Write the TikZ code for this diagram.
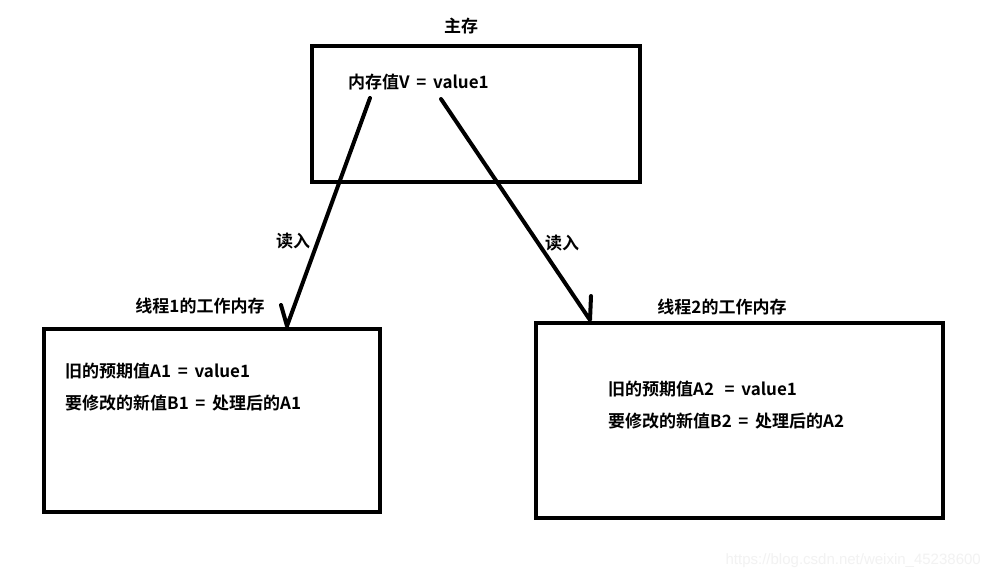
\documentclass[tikz,border=0pt]{standalone}
\usepackage{fontspec}
\setmainfont{Noto Sans CJK SC Bold}
\setsansfont{Liberation Sans}
\begin{document}
\begin{tikzpicture}[x=1pt,y=-1pt,
  box/.style={draw=black,line width=4pt},
  lbl/.style={font=\fontsize{17}{20}\selectfont,inner sep=0pt},
  conn/.style={line width=4pt,line cap=round,line join=round},
  wm/.style={font=\sffamily\fontsize{15}{18}\selectfont,text=black!5,inner sep=0pt}]
\useasboundingbox[fill=white] (0,0) rectangle (990,579);
% boxes
\draw[box] (312,46) rectangle (640,182);
\draw[box] (44,329) rectangle (380,512);
\draw[box] (536,323) rectangle (943,518);
% texts
\node[lbl] (main) at (461,26) {主存};
\node[lbl,anchor=west] (v) at (348,82) {内存值V\,\ =\ \,value1};
\node[lbl] (r1) at (293,241) {读入};
\node[lbl] (r2) at (562,243) {读入};
\node[lbl] (t1) at (200,306) {线程1的工作内存};
\node[lbl] (t2) at (722,307) {线程2的工作内存};
\node[lbl,anchor=west] (a1) at (65,371) {旧的预期值A1\,\ =\ \,value1};
\node[lbl,anchor=west] (b1) at (65,403) {要修改的新值B1\,\ =\ \,处理后的A1};
\node[lbl,anchor=west] (a2) at (608,389) {旧的预期值A2\ \ \,=\ \,value1};
\node[lbl,anchor=west] (b2) at (608,421) {要修改的新值B2\,\ =\ \,处理后的A2};
\node[wm,anchor=east] (w) at (981,561) {https://blog.csdn.net/weixin\_45238600};
% arrows
\coordinate (s1) at (370,98);
\coordinate (e1) at (287,326);
\coordinate (h1) at (281,305);
\coordinate (s2) at (441,99);
\coordinate (e2) at (590,320);
\coordinate (h2) at (591,296);
\draw[conn] (s1) -- (e1) -- (h1);
\draw[conn] (s2) -- (e2) -- (h2);
\end{tikzpicture}
\end{document}
